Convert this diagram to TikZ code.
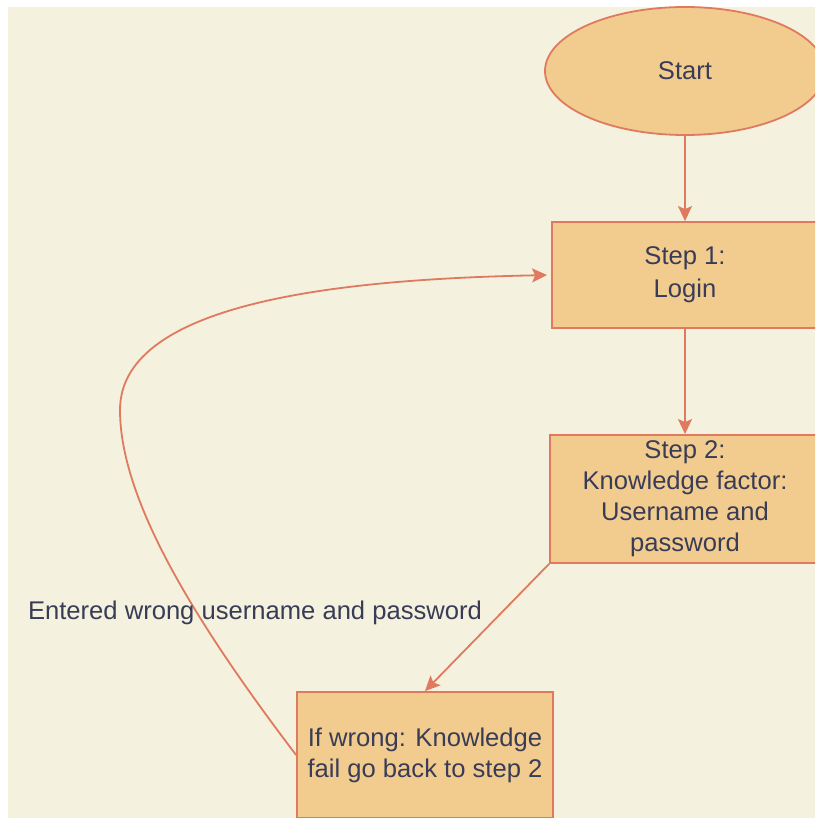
\documentclass[tikz,border=0pt]{standalone}
\usepackage{fontspec}
\setmainfont{Liberation Sans}
\usetikzlibrary{shapes.geometric,arrows.meta}
\definecolor{paper}{HTML}{F4F1DE}
\definecolor{boxfill}{HTML}{F2CC8F}
\definecolor{edge}{HTML}{E07A5F}
\definecolor{ink}{HTML}{393C56}
\tikzset{
  flowtext/.style={text=ink, font=\fontsize{25.6}{31}\selectfont, align=center},
  startnode/.style={flowtext, ellipse, draw=edge, fill=boxfill, line width=1.8pt, inner sep=0pt},
  stepbox/.style={flowtext, rectangle, draw=edge, fill=boxfill, line width=1.8pt, inner sep=0pt},
  link/.style={draw=edge, line width=1.8pt, -{Stealth[length=15pt,width=14pt,inset=3pt]}},
}
\begin{document}
\begin{tikzpicture}[x=1pt,y=-1pt]
  \useasboundingbox (0,0) rectangle (815,818);
  \fill[white] (0,0) rectangle (815,818);
  \fill[paper] (8,7) rectangle (815,818);
  \begin{scope}
    \clip (8,7) rectangle (815,818);
    % flow nodes
    \node[startnode, minimum width=280pt, minimum height=128pt] (start) at (685,71) {Start};
    \node[stepbox, minimum width=266pt, minimum height=106pt] (s1) at (685,275)
      {Step 1:\\[2pt]Login};
    \node[stepbox, minimum width=270pt, minimum height=128pt] (s2) at (685,499)
      {Step 2:\\Knowledge factor:\\Username and\\password};
    \node[stepbox, minimum width=256pt, minimum height=126pt] (fail) at (425,755)
      {If wrong: Knowledge\\fail go back to step 2};
    \coordinate (bend) at (120,410);
    % connectors
    \draw[link] (start.south) -- (s1.north);
    \draw[link] (s1.south) -- (s2.north);
    \draw[link] (s2.south west) -- (fail.north);
    \draw[link, shorten >=4pt] (fail.west) .. controls (195,622) and (120,500) .. (bend)
      .. controls (120,300) and (350,279) .. (s1.west);
    \node[flowtext, inner sep=0pt] (lbl) at (255,613) {Entered wrong username and password};
  \end{scope}
\end{tikzpicture}
\end{document}
